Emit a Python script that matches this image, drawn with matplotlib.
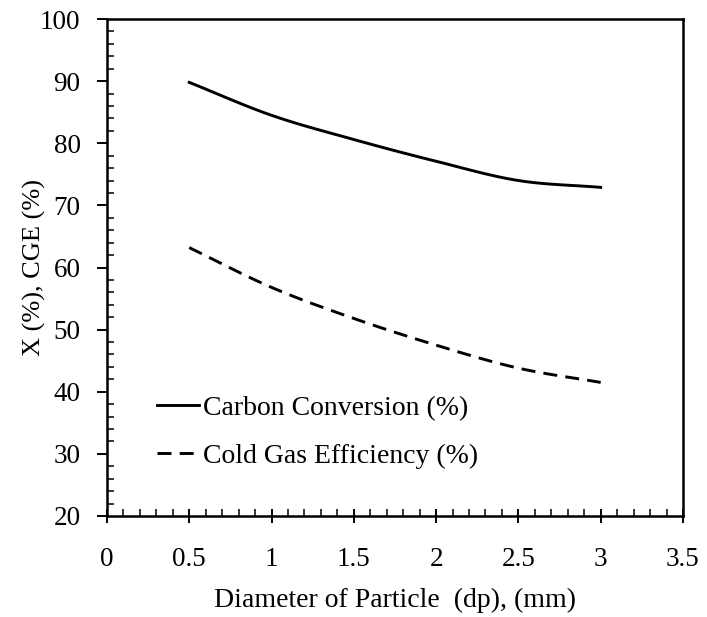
import matplotlib
matplotlib.use("Agg")
import matplotlib.pyplot as plt
import numpy as np
from matplotlib.ticker import MultipleLocator

diameter = [0.5, 1.0, 1.5, 2.0, 2.5, 3.0]
carbon_conversion = [89.8, 84.5, 80.6, 77.1, 74.0, 72.9]
cold_gas_efficiency = [63.2, 56.8, 51.8, 47.5, 43.8, 41.5]
x_ticks = [0, 0.5, 1, 1.5, 2, 2.5, 3, 3.5]
x_tick_labels = ['0', '0.5', '1', '1.5', '2', '2.5', '3', '3.5']

plt.rcParams['font.family'] = ['Liberation Serif', 'DejaVu Serif']


def smooth(xs, ys, n=20):
    # Catmull-Rom curve through the points, like a spreadsheet "smoothed line"
    xs = np.asarray(xs, float)
    ys = np.asarray(ys, float)
    px = np.concatenate([[2 * xs[0] - xs[1]], xs, [2 * xs[-1] - xs[-2]]])
    py = np.concatenate([[2 * ys[0] - ys[1]], ys, [2 * ys[-1] - ys[-2]]])
    out_x, out_y = [], []
    t = np.linspace(0, 1, n, endpoint=False)
    for i in range(1, len(px) - 2):
        for p, out in ((px, out_x), (py, out_y)):
            p0, p1, p2, p3 = p[i - 1], p[i], p[i + 1], p[i + 2]
            out.extend(0.5 * (2 * p1 + (-p0 + p2) * t
                              + (2 * p0 - 5 * p1 + 4 * p2 - p3) * t ** 2
                              + (-p0 + 3 * p1 - 3 * p2 + p3) * t ** 3))
    out_x.append(xs[-1])
    out_y.append(ys[-1])
    return out_x, out_y


fig = plt.figure(figsize=(7.07, 6.17), dpi=100)
ax = fig.add_axes([0.1513, 0.1637, 0.8147, 0.8055])

cx, cy = smooth(diameter, carbon_conversion)
gx, gy = smooth(diameter, cold_gas_efficiency)
ax.plot(cx, cy, color='black', lw=2.1, label='Carbon Conversion (%)')
ax.plot(gx, gy, color='black', lw=2.1, ls=(0, (4.8, 2.8)),
        label='Cold Gas Efficiency (%)')

ax.set_xlim(0, 3.5)
ax.set_ylim(20, 100)
ax.set_xticks(x_ticks)
ax.set_xticklabels(x_tick_labels)
ax.xaxis.set_minor_locator(MultipleLocator(0.1))
ax.yaxis.set_major_locator(MultipleLocator(10))
ax.yaxis.set_minor_locator(MultipleLocator(2))

ax.tick_params(axis='x', which='major', direction='inout', length=10, width=1.4,
               labelsize=19.5, pad=17)
ax.tick_params(axis='y', which='major', direction='out', length=7, width=1.4,
               labelsize=19.5, pad=12)
ax.tick_params(which='minor', direction='in', length=5, width=1.1)
ax.tick_params(top=False, right=False, which='both')
for sp in ax.spines.values():
    sp.set_linewidth(1.8)

ax.set_xlabel('Diameter of Particle  (dp), (mm)', fontsize=20, labelpad=12)
ax.set_ylabel('X (%), CGE (%)', fontsize=19, labelpad=-4)

ax.legend(loc='lower left', bbox_to_anchor=(0.087, 0.095), frameon=False, fontsize=20,
          handlelength=1.5, handletextpad=0.15, labelspacing=0.8, borderaxespad=0,
          borderpad=0)

fig.savefig('out.png', dpi=100)
